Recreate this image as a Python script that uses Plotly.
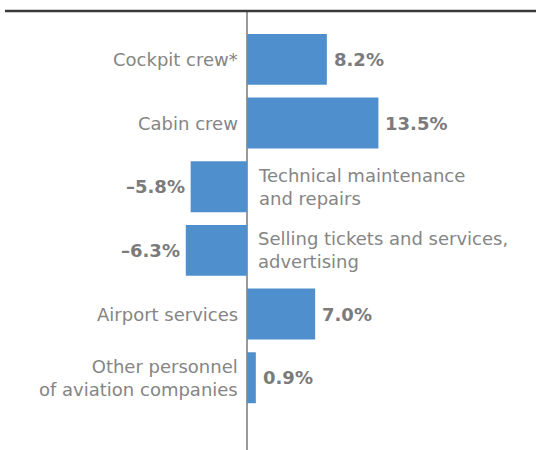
import plotly.graph_objects as go

# Staff categories and change in headcount, %
categories = [
    "Cockpit crew*",
    "Cabin crew",
    "Technical maintenance<br>and repairs",
    "Selling tickets and services,<br>advertising",
    "Airport services",
    "Other personnel<br>of aviation companies",
]
values = [8.2, 13.5, -5.8, -6.3, 7.0, 0.9]

BAR_COLOR = "#4F8FCD"
LABEL_COLOR = "#858585"
VALUE_COLOR = "#7B7B7B"
FONT = "DejaVu Sans"

cat_ids = list(range(len(categories)))


def fmt_value(v):
    s = f"{abs(v):.1f}%"
    return ("\u2013" + s) if v < 0 else s


fig = go.Figure(
    go.Bar(
        x=values,
        y=cat_ids,
        orientation="h",
        marker=dict(color=BAR_COLOR, line=dict(width=0)),
        width=0.8,
        hoverinfo="skip",
    )
)

annotations = []
for i, (cat, v) in enumerate(zip(categories, values)):
    # category name on the opposite side of the axis from the bar
    annotations.append(
        dict(
            x=0, y=i, xref="x", yref="y",
            text=cat,
            showarrow=False,
            xanchor="left" if v < 0 else "right",
            align="left" if v < 0 else "right",
            xshift=9 if v < 0 else -7,
            font=dict(family=FONT, size=18, color=LABEL_COLOR),
        )
    )
    # value label just past the end of the bar
    annotations.append(
        dict(
            x=v, y=i, xref="x", yref="y",
            text=f"<b>{fmt_value(v)}</b>",
            showarrow=False,
            xanchor="right" if v < 0 else "left",
            xshift=-4 if v < 0 else 5,
            font=dict(family=FONT, size=18, color=VALUE_COLOR),
        )
    )

fig.update_layout(
    width=536,
    height=450,
    margin=dict(l=0, r=0, t=11, b=0),
    paper_bgcolor="white",
    plot_bgcolor="white",
    showlegend=False,
    annotations=annotations,
    xaxis=dict(
        range=[-25.4, 29.7],
        showgrid=False,
        showticklabels=False,
        ticks="",
        zeroline=True,
        zerolinecolor="#9A9A9A",
        zerolinewidth=1.5,
        fixedrange=True,
    ),
    yaxis=dict(
        range=[6.135, -0.76],
        showgrid=False,
        showticklabels=False,
        ticks="",
        zeroline=False,
        fixedrange=True,
    ),
    shapes=[
        dict(
            type="line", xref="paper", yref="paper",
            x0=5 / 536, x1=1, y0=1, y1=1,
            line=dict(color="#3A3A3A", width=2.5),
        )
    ],
)

fig.write_html("out.html")
